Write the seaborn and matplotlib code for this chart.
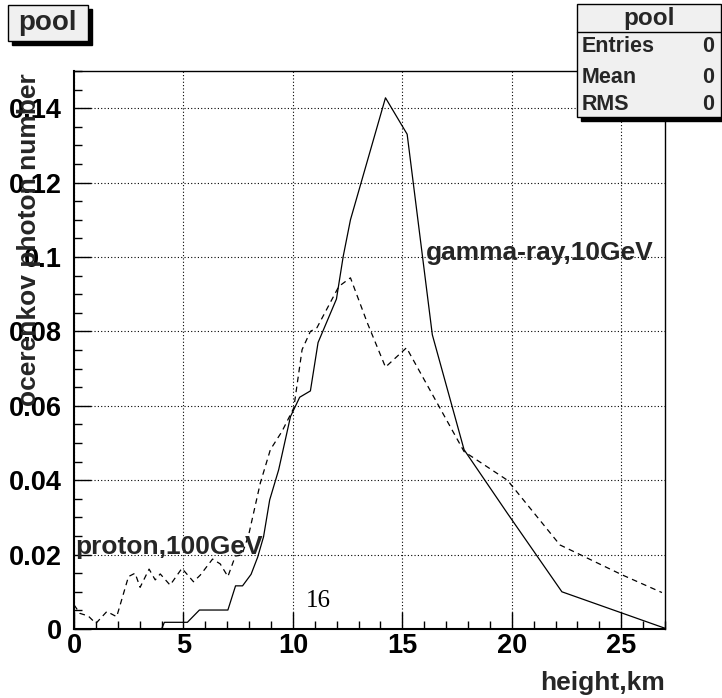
import matplotlib
matplotlib.use("Agg")
import matplotlib.pyplot as plt
from matplotlib.patches import Rectangle
from matplotlib.ticker import MultipleLocator, FuncFormatter
import numpy as np
import pandas as pd
import seaborn as sns

# ---------------- data ----------------
gamma_x = [4.0, 4.13, 5.18, 5.73, 7.03, 7.38, 7.7, 8.09, 8.39, 8.66, 8.94, 9.35,
           9.89, 10.31, 10.8, 11.15, 11.99, 12.3, 12.63, 14.23, 15.22, 16.37,
           17.82, 19.8, 22.29, 27.0]
gamma_y = [0.0, 0.0018, 0.0018, 0.0051, 0.0051, 0.0116, 0.0116, 0.0147, 0.0193,
           0.0248, 0.0347, 0.0428, 0.0571, 0.0623, 0.064, 0.077, 0.0887, 0.1002,
           0.110, 0.1428, 0.133, 0.0791, 0.0482, 0.0311, 0.0100, 0.0002]

proton_x = [0, 0.27, 0.65, 1.0, 1.5, 1.95, 2.49, 2.79, 3.02, 3.43, 3.71, 3.94,
            4.39, 4.93, 5.46, 5.77, 6.33, 6.68, 7.03, 7.37, 7.67, 7.98, 8.51,
            8.97, 9.5, 10.04, 10.42, 10.8, 11.1, 12.1, 12.63, 13.4, 14.23,
            15.19, 17.82, 19.8, 22.2, 25.06, 26.86]
proton_y = [0.0065, 0.0042, 0.0035, 0.0015, 0.0047, 0.0033, 0.0141, 0.015,
            0.0112, 0.0161, 0.0132, 0.0148, 0.0118, 0.0163, 0.0127, 0.0145,
            0.0188, 0.0175, 0.0141, 0.0196, 0.0199, 0.0253, 0.0392, 0.0482,
            0.0531, 0.0594, 0.0751, 0.080, 0.081, 0.0921, 0.0944, 0.0823,
            0.0704, 0.0756, 0.0477, 0.040, 0.0226, 0.0145, 0.0098]

x_ticks = [0, 5, 10, 15, 20, 25]
y_ticks = [0, 0.02, 0.04, 0.06, 0.08, 0.1, 0.12, 0.14]

title_text = "pool"
x_label = "height,km"
y_label = "ocerenkov photon number"
stat_rows = [("Entries", "0"), ("Mean", "0"), ("RMS", "0")]

# ---------------- style ----------------
sns.set_style("white")
plt.rcParams['font.family'] = ['Liberation Sans', 'DejaVu Sans']
plt.rcParams['font.weight'] = 'bold'

W, H = 722, 698
fig = plt.figure(figsize=(W / 100, H / 100), dpi=100)
fig.patch.set_facecolor("white")

def fx(px):
    return px / W

def fy(py):
    return 1 - py / H

ax_l, ax_r, ax_t, ax_b = 74, 665, 71, 629
ax = fig.add_axes([fx(ax_l), fy(ax_b), (ax_r - ax_l) / W, (ax_b - ax_t) / H])
ax.set_facecolor("white")

df_g = pd.DataFrame({"x": gamma_x, "y": gamma_y})
df_p = pd.DataFrame({"x": proton_x, "y": proton_y})
sns.lineplot(data=df_g, x="x", y="y", ax=ax, color="black", linewidth=0.9,
             sort=False, estimator=None, zorder=3)
sns.lineplot(data=df_p, x="x", y="y", ax=ax, color="black", linewidth=0.9,
             linestyle=(0, (4.5, 3.5)), sort=False, estimator=None, zorder=3)

ax.set_xlim(0, 27)
ax.set_ylim(0, 0.15)

ax.set_xticks(x_ticks)
ax.set_yticks(y_ticks)
ax.xaxis.set_minor_locator(MultipleLocator(1))
ax.yaxis.set_minor_locator(MultipleLocator(0.005))
ax.yaxis.set_major_formatter(FuncFormatter(lambda v, p: f"{v:g}"))
ax.xaxis.set_major_formatter(FuncFormatter(lambda v, p: f"{v:g}"))

ax.tick_params(axis="both", which="both", direction="in", colors="black",
               bottom=True, left=True, top=False, right=False)
ax.tick_params(axis="both", which="major", length=12, width=1.0, labelsize=19.5)
ax.tick_params(axis="both", which="minor", length=6, width=1.0)
ax.tick_params(axis="x", which="major", pad=3)
ax.tick_params(axis="y", which="major", pad=8.5)
for lab in ax.get_xticklabels() + ax.get_yticklabels():
    lab.set_fontweight("bold")

ax.grid(True, which="major", linestyle=(0, (1, 2)), color="black", linewidth=0.8)
ax.set_axisbelow(True)

for s in ["left", "bottom"]:
    ax.spines[s].set_linewidth(1.5)
    ax.spines[s].set_color("black")
for s in ["top", "right"]:
    ax.spines[s].set_linewidth(1.0)
    ax.spines[s].set_color("black")

ax.set_xlabel(x_label, loc="right", fontsize=19, fontweight="bold", va="baseline")
ax.xaxis.set_label_coords(1.0, -(690 - ax_b) / (ax_b - ax_t))
ax.set_ylabel(y_label, loc="top", fontsize=19, fontweight="bold", va="baseline")
ax.yaxis.set_label_coords((36 - ax_l) / (ax_r - ax_l), 1 - (73 - ax_t) / (ax_b - ax_t))

# annotations
ax.text(16.06, 0.0993, "gamma-ray,10GeV", fontsize=19, fontweight="bold",
        ha="left", va="baseline", zorder=5)
ax.text(0.05, 0.0202, "proton,100GeV", fontsize=19, fontweight="bold",
        ha="left", va="baseline", zorder=5)
ax.text(10.57, 0.006, "16", fontsize=18, fontweight="normal", color="black",
        family=["Liberation Serif", "DejaVu Serif"], ha="left", va="baseline", zorder=5)

# ---------------- title box ----------------
def box(x0, y0, x1, y1, shadow=4):
    sh = Rectangle((fx(x0 + shadow), fy(y1 + shadow)), (x1 - x0) / W, (y1 - y0) / H,
                   transform=fig.transFigure, facecolor="black", edgecolor="black",
                   zorder=10)
    fg = Rectangle((fx(x0), fy(y1)), (x1 - x0) / W, (y1 - y0) / H,
                   transform=fig.transFigure, facecolor="#f0f0f0", edgecolor="black",
                   linewidth=1.0, zorder=11)
    fig.add_artist(sh)
    fig.add_artist(fg)

box(7.5, 5, 87.5, 40.5)
fig.text(fx(47.5), fy(23), title_text, fontsize=20, fontweight="bold",
         ha="center", va="center", zorder=12)

# ---------------- stat box ----------------
sb_x0, sb_y0, sb_x1, sb_y1 = 577, 4, 721, 116.5
box(sb_x0, sb_y0, sb_x1, sb_y1)
fig.add_artist(plt.Line2D([fx(sb_x0), fx(sb_x1)], [fy(32.3), fy(32.3)],
                          transform=fig.transFigure, color="black", lw=1.0, zorder=12))
fig.text(fx((sb_x0 + sb_x1) / 2), fy(19), title_text, fontsize=17.5, fontweight="bold",
         ha="center", va="center", zorder=12)
row_y = [46.7, 77.3, 105]
for (name, val), ry in zip(stat_rows, row_y):
    fig.text(fx(582), fy(ry), name, fontsize=15.5, fontweight="bold",
             ha="left", va="center", zorder=12)
    fig.text(fx(714), fy(ry), val, fontsize=15.5, fontweight="bold",
             ha="right", va="center", zorder=12)

fig.savefig("out.png", dpi=100)
